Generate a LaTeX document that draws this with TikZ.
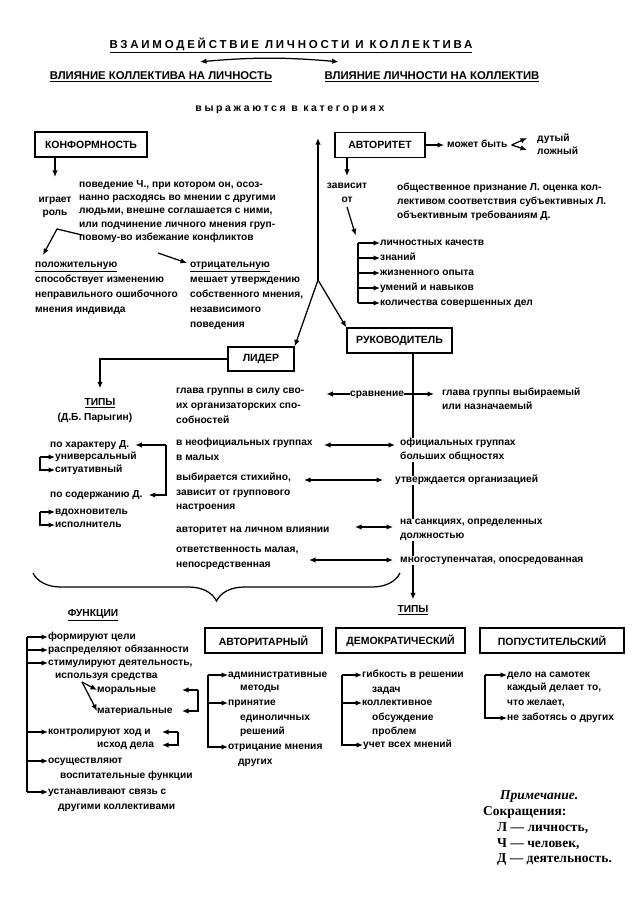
\documentclass[tikz,border=0pt]{standalone}
\usepackage{fontspec}
\setmainfont{Liberation Sans}
\newfontfamily\notefont{Liberation Serif}
\newfontfamily\titlefont[LetterSpace=24]{Liberation Sans}
\newfontfamily\catfont[LetterSpace=25]{Liberation Sans}
\usetikzlibrary{arrows.meta,positioning,decorations.pathreplacing}

\begin{document}
\begin{tikzpicture}[x=1pt, y=-1pt,
  txt/.style={anchor=west, inner sep=0pt, text height=7pt, text depth=2pt,
    font=\fontsize{10.2}{14}\selectfont\bfseries},
  block/.style={anchor=north west, inner sep=0pt, align=left,
    execute at begin node=\rule{0pt}{7pt},
    font=\fontsize{10.2}{14}\selectfont\bfseries},
  caps/.style={inner sep=0pt, font=\fontsize{10.2}{13}\selectfont\bfseries},
  catbox/.style={draw, line width=1.4pt, inner sep=0pt, minimum height=25pt,
    font=\fontsize{10.5}{12}\selectfont\bfseries},
  note/.style={anchor=west, inner sep=0pt,
    font=\notefont\fontsize{13.5}{16}\selectfont\bfseries},
  arrow/.style={-{Latex[length=6.5pt,width=5.5pt]}, line width=1.25pt},
  darrow/.style={{Latex[length=6.5pt,width=5.5pt]}-{Latex[length=6.5pt,width=5.5pt]}, line width=1.25pt},
  wire/.style={line width=1.25pt}
]
\useasboundingbox (0,0) rectangle (640,904);

\node[caps, font=\titlefont\fontsize{11.5}{12}\selectfont\bfseries] (title) at (291,45)
  {\underline{ВЗАИМОДЕЙСТВИЕ ЛИЧНОСТИ И КОЛЛЕКТИВА}};
\node[caps, font=\fontsize{11.3}{12}\selectfont\bfseries] (infl1) at (161,77)
  {\underline{ВЛИЯНИЕ КОЛЛЕКТИВА НА ЛИЧНОСТЬ}};
\node[caps, font=\fontsize{11.3}{12}\selectfont\bfseries] (infl2) at (432,77)
  {\underline{ВЛИЯНИЕ ЛИЧНОСТИ НА КОЛЛЕКТИВ}};
\draw[darrow] ([xshift=39pt,yshift=10pt]infl1.north) to[bend left=5]
  ([xshift=14pt,yshift=10pt]infl2.north west);
\node[caps, font=\catfont\fontsize{10.5}{11}\selectfont\bfseries] (categ) at (290,110)
  {выражаются в категориях};

\node[catbox, minimum width=112pt] (conf) at (91,144.5) {КОНФОРМНОСТЬ};
\node[block, font=\fontsize{10.2}{13.3}\selectfont\bfseries] (confdef) at (79,180)
  {поведение Ч., при котором он, осоз-\\нанно расходясь во мнении с другими\\людьми, внешне соглашается с ними,\\или подчинение личного мнения груп-\\повому-во избежание конфликтов};
\node[block, anchor=north, align=center, font=\fontsize{10.2}{13}\selectfont\bfseries] (role) at (55,197)
  {играет\\роль};
\draw[arrow, shorten >=20pt] (conf.south -| role.north) -- (role.north);
\node[block, font=\fontsize{10.2}{15}\selectfont\bfseries] (pos) at (35,262)
  {\underline{положительную}\\способствует изменению\\неправильного ошибочного\\мнения индивида};
\node[block, font=\fontsize{10.2}{15}\selectfont\bfseries] (neg) at (190,262)
  {\underline{отрицательную}\\мешает утверждению\\собственного мнения,\\независимого\\поведения};
\coordinate (roleout) at (82,235);
\coordinate (negin) at (158,253);
\draw[arrow] (roleout) -- ++(-25,-6) -- ([xshift=8pt,yshift=7pt]pos.north west);
\draw[arrow] (negin) -- ([xshift=-3pt,yshift=-1pt]neg.north west);

\node[catbox, minimum width=90pt] (auth) at (380,145) {АВТОРИТЕТ};
\node[txt] (maybe) at (447,145) {может быть};
\node[block, anchor=west, font=\fontsize{10.2}{13}\selectfont\bfseries] (kinds) at (537,144)
  {дутый\\ложный};
\draw[arrow, shorten >=3pt] (auth.east) -- (maybe.west);
\draw[arrow] ([xshift=4pt]maybe.east) -- ([xshift=-10pt,yshift=6pt]kinds.west);
\draw[arrow] ([xshift=4pt]maybe.east) -- ([xshift=-10pt,yshift=-6pt]kinds.west);
\node[block, anchor=north, align=center] (dep) at (347,183) {зависит\\от};
\draw[arrow, shorten >=7pt] (auth.south -| dep.north) -- (dep.north);
\node[block] (authdef) at (397,183)
  {общественное признание Л. оценка кол-\\лективом соответствия субъективных Л.\\объективным требованиям Д.};
\coordinate (qspine) at (358,243);
\node[txt] (q1) at (380,243) {личностных качеств};
\node[txt] (q2) at (380,258) {знаний};
\node[txt] (q3) at (380,273) {жизненного опыта};
\node[txt] (q4) at (380,288) {умений и навыков};
\node[txt] (q5) at (380,303) {количества совершенных дел};
\draw[arrow, shorten >=8pt] ([yshift=-4pt]dep.south) -- (qspine);
\draw[wire] (qspine) -- (qspine |- q5.west);
\draw[arrow] (qspine) -- (q1.west);
\draw[arrow] (qspine |- q2.west) -- (q2.west);
\draw[arrow] (qspine |- q3.west) -- (q3.west);
\draw[arrow] (qspine |- q4.west) -- (q4.west);
\draw[arrow] (qspine |- q5.west) -- (q5.west);

\node[catbox, minimum width=66pt, minimum height=24pt] (leader) at (261,359) {ЛИДЕР};
\node[catbox, minimum width=105pt] (head) at (399.5,340.5) {РУКОВОДИТЕЛЬ};
\coordinate (fork) at (318,280);
\draw[arrow, shorten >=24pt] (fork) -- (fork |- categ.south);
\draw[arrow] (fork) -- (leader.north east);
\draw[arrow] (fork) -- (head.north west);

\node[caps] (ltypes) at (100,403) {\underline{ТИПЫ}};
\node[caps] (paryg) at (95,418) {(Д.Б. Парыгин)};
\draw[arrow, shorten >=10pt] (leader.west) -| (ltypes.north);
\node[txt] (bychar) at (50,445) {по характеру Д.};
\node[txt] (univ) at (55,457) {универсальный};
\node[txt] (sit) at (55,470) {ситуативный};
\node[txt] (bycont) at (50,495) {по содержанию Д.};
\node[txt] (insp) at (55,512) {вдохновитель};
\node[txt] (exec) at (55,525) {исполнитель};
\draw[arrow] ([xshift=-15pt]univ.west) -- (univ.west);
\draw[arrow] ([xshift=-15pt]univ.west) |- (sit.west);
\draw[arrow] ([xshift=-15pt]insp.west) -- (insp.west);
\draw[arrow] ([xshift=-15pt]insp.west) |- (exec.west);
\coordinate (typeR) at (166,445);
\draw[arrow, shorten >=6pt] (typeR) -- (bychar.east);
\draw[arrow, shorten >=6pt] (typeR) |- (bycont.east);

\node[caps] (htypes) at (413,610) {\underline{ТИПЫ}};
\draw[arrow, shorten >=6pt] (head.south -| htypes.north) -- (htypes.north);

\node[block, font=\fontsize{10.2}{15}\selectfont\bfseries] (l1) at (176,388)
  {глава группы в силу сво-\\их организаторских спо-\\собностей};
\node[block, font=\fontsize{10.2}{15}\selectfont\bfseries] (l2) at (176,438)
  {в неофициальных группах\\в малых};
\node[block, font=\fontsize{10.2}{14.5}\selectfont\bfseries] (l3) at (176,473)
  {выбирается стихийно,\\зависит от группового\\настроения};
\node[txt] (l4) at (176,530) {авторитет на личном влиянии};
\node[block, font=\fontsize{10.2}{15}\selectfont\bfseries] (l5) at (176,547)
  {ответственность малая,\\непосредственная};

\node[block] (r1) at (442,388) {глава группы выбираемый\\или назначаемый};
\node[block, fill=white] (r2) at (400,438) {официальных группах\\больших общностях};
\node[txt, fill=white] (r3) at (395,480) {утверждается организацией};
\node[block, fill=white] (r4) at (400,519) {на санкциях, определенных\\должностью};
\node[txt, fill=white] (r5) at (400,560) {многоступенчатая, опосредованная};
\node[txt] (cmp) at (350,394) {сравнение};
\draw[arrow, shorten >=22pt] (cmp.west) -- (l1.east |- cmp.west);
\draw[arrow, shorten >=8pt] (cmp.east) -- (r1.west |- cmp.east);
\coordinate (row2) at (324,445);
\coordinate (row3) at (304,480);
\coordinate (row4) at (355,527);
\coordinate (row5) at (309,560);
\draw[darrow, shorten >=5pt] (row2) -- (r2.west |- row2);
\draw[darrow, shorten >=12pt] (row3) -- (r3.west |- row3);
\draw[darrow, shorten >=7pt] (row4) -- (r4.west |- row4);
\draw[darrow, shorten >=7pt] (row5) -- (r5.west |- row5);

\coordinate (braceL) at (33,573);
\coordinate (braceR) at (400,573);
\draw[wire, decorate, decoration={brace, mirror, amplitude=28pt}] (braceL) -- (braceR);

\node[caps] (funcs) at (93,615) {\underline{ФУНКЦИИ}};
\node[txt] (f1) at (48,637) {формируют цели};
\node[txt] (f2) at (48,650) {распределяют обязанности};
\node[txt] (f3) at (48,663) {стимулируют деятельность,};
\node[txt] (f3b) at (55,676) {используя средства};
\node[txt] (f3c) at (97,690) {моральные};
\node[txt] (f3d) at (97,711) {материальные};
\node[txt] (f4) at (48,732) {контролируют ход и};
\node[txt] (f4b) at (97,745) {исход дела};
\node[txt] (f5) at (48,761) {осуществляют};
\node[txt] (f5b) at (60,776) {воспитательные функции};
\node[txt] (f6) at (48,792) {устанавливают связь с};
\node[txt] (f6b) at (58,807) {другими коллективами};
\coordinate (fspine) at (27,637);
\draw[wire] (fspine) -- (fspine |- f6.west);
\draw[arrow] (fspine) -- (f1.west);
\draw[arrow] (fspine |- f2.west) -- (f2.west);
\draw[arrow] (fspine |- f3.west) -- (f3.west);
\draw[arrow] (fspine |- f4.west) -- (f4.west);
\draw[arrow] (fspine |- f5.west) -- (f5.west);
\draw[arrow] (fspine |- f6.west) -- (f6.west);
\coordinate (means) at (82,682);
\draw[arrow] (means) -- (f3c.west);
\draw[arrow] (means) -- (f3d.west);
\coordinate (mR) at (198,690);
\coordinate (mRb) at (198,711);
\draw[arrow] (mR) -- ([xshift=-16pt]mR);
\draw[arrow] (mR) -- (mRb) -- ([xshift=-16pt]mRb);
\coordinate (cR) at (178,732);
\coordinate (cRb) at (178,745);
\draw[arrow] (cR) -- ([xshift=-16pt]cR);
\draw[arrow] (cR) -- (cRb) -- ([xshift=-16pt]cRb);

\node[catbox, minimum width=117pt] (autoc) at (263.5,640.5) {АВТОРИТАРНЫЙ};
\node[catbox, minimum width=129pt] (democ) at (400.5,640.5) {ДЕМОКРАТИЧЕСКИЙ};
\node[catbox, minimum width=144pt] (lais) at (552,640.5) {ПОПУСТИТЕЛЬСКИЙ};

\coordinate (aspine) at (208,675);
\node[txt] (a1) at (228,675) {административные};
\node[txt] (a1b) at (240,688) {методы};
\node[txt] (a2) at (228,703) {принятие};
\node[txt] (a2b) at (240,718) {единоличных};
\node[txt] (a2c) at (240,732) {решений};
\node[txt] (a3) at (228,747) {отрицание мнения};
\node[txt] (a3b) at (238,762) {других};
\draw[arrow] (aspine) -- (a1.west);
\draw[arrow] (aspine |- a2.west) -- (a2.west);
\draw[arrow] (aspine) |- (a3.west);

\coordinate (dspine) at (342,675);
\node[txt] (d1) at (362,675) {гибкость в решении};
\node[txt] (d1b) at (372,690) {задач};
\node[txt] (d2) at (362,703) {коллективное};
\node[txt] (d2b) at (372,718) {обсуждение};
\node[txt] (d2c) at (372,732) {проблем};
\node[txt] (d3) at (363,745) {учет всех мнений};
\draw[arrow] (dspine) -- (d1.west);
\draw[arrow] (dspine |- d2.west) -- (d2.west);
\draw[arrow] (dspine) |- (d3.west);

\coordinate (pspine) at (485,675);
\node[txt] (p1) at (507,675) {дело на самотек};
\node[txt] (p1b) at (507,688) {каждый делает то,};
\node[txt] (p1c) at (507,703) {что желает,};
\node[txt] (p2) at (507,718) {не заботясь о других};
\draw[arrow] (pspine) -- (p1.west);
\draw[arrow] (pspine) |- (p2.west);

\node[note, font=\notefont\fontsize{13.5}{16}\selectfont\bfseries\itshape] (nhead) at (500,797) {Примечание.};
\node[note] (nabbr) at (483,812) {Сокращения:};
\node[note] (nl) at (497,828) {Л — личность,};
\node[note] (nch) at (497,844) {Ч — человек,};
\node[note] (nd) at (497,860) {Д — деятельность.};
\end{tikzpicture}
\end{document}
